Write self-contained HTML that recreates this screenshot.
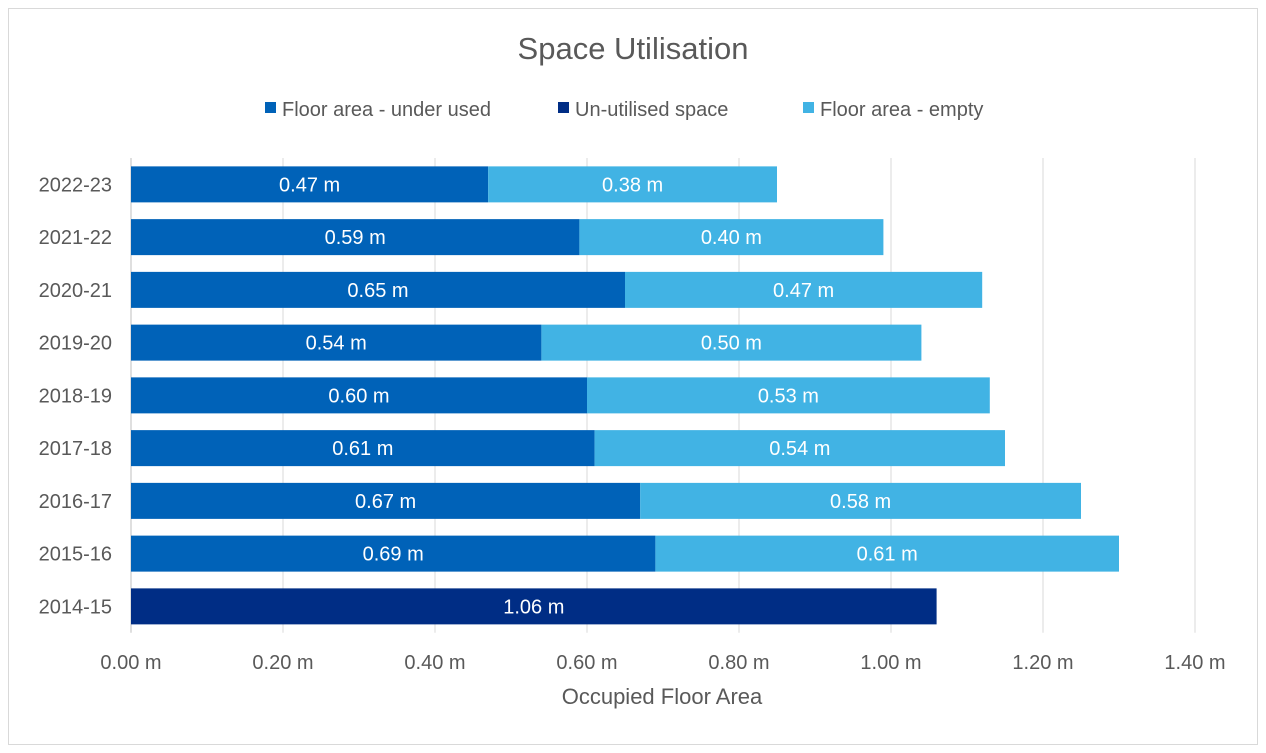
<!DOCTYPE html>
<html><head><meta charset="utf-8"><style>
body{margin:0;background:#fff;}
svg{display:block;font-family:"Liberation Sans",Arial,sans-serif;}
</style></head><body>
<svg id="c" width="1266" height="753">
<rect x="8.5" y="8.5" width="1249" height="736" fill="#fff" stroke="#d9d9d9"/>
<text x="633" y="59" text-anchor="middle" font-size="31" fill="#595959">Space Utilisation</text>
<g>
<g><rect x="265" y="102" width="11" height="11" fill="#0062b8"/><text x="282" y="116" font-size="20" fill="#595959">Floor area - under used</text></g>
<g><rect x="558" y="102" width="11" height="11" fill="#002d85"/><text x="575" y="116" font-size="20" fill="#595959">Un-utilised space</text></g>
<g><rect x="803" y="102" width="11" height="11" fill="#41b3e4"/><text x="820" y="116" font-size="20" fill="#595959">Floor area - empty</text></g>
</g>
<g id="grid"></g>
<g id="bars"></g>
<g id="ylab"></g>
<g id="xlab"></g>
<text x="662" y="704" text-anchor="middle" font-size="22" fill="#595959">Occupied Floor Area</text>
</svg>
<script>
const categories=["2022-23","2021-22","2020-21","2019-20","2018-19","2017-18","2016-17","2015-16","2014-15"];
const underUsed=[0.47,0.59,0.65,0.54,0.60,0.61,0.67,0.69,0];
const unUtilised=[0,0,0,0,0,0,0,0,1.06];
const empty=[0.38,0.40,0.47,0.50,0.53,0.54,0.58,0.61,0];
const xTicks=[0,0.2,0.4,0.6,0.8,1.0,1.2,1.4];
const NS="http://www.w3.org/2000/svg";
const x0=131,pxPer=760,top0=158,step=52.75,barH=36;
const xs=v=>x0+v*pxPer;
const yc=i=>top0+step*(i+0.5);
function mk(tag,attrs,parent){const e=document.createElementNS(NS,tag);for(const k in attrs)e.setAttribute(k,attrs[k]);parent.appendChild(e);return e;}
const grid=document.getElementById('grid'),bars=document.getElementById('bars'),ylab=document.getElementById('ylab'),xlab=document.getElementById('xlab');
xTicks.forEach(t=>{
 const l=mk('line',{x1:xs(t),x2:xs(t),y1:top0,y2:top0+step*categories.length,stroke:t===0?'#bfbfbf':'#d9d9d9','stroke-width':1},grid);
 
 
 const tx=mk('text',{x:xs(t),y:669,'text-anchor':'middle','font-size':20,fill:'#595959'},xlab);
 tx.textContent=t.toFixed(2)+' m';
 
 
});
const series=[[underUsed,'#0062b8','bar-under-used'],[unUtilised,'#002d85','bar-un-utilised'],[empty,'#41b3e4','bar-empty']];
categories.forEach((c,i)=>{
 const ty=mk('text',{x:112,y:yc(i)+7,'text-anchor':'end','font-size':20,fill:'#595959'},ylab);
 ty.textContent=c;
 
 
 let acc=0;
 series.forEach(([arr,col,name])=>{
  const v=arr[i];if(!v)return;
  const r=mk('rect',{x:xs(acc),y:yc(i)-barH/2,width:v*pxPer,height:barH,fill:col},bars);
  
  
  const t=mk('text',{x:xs(acc+v/2),y:yc(i)+7,'text-anchor':'middle','font-size':20,fill:'#fff'},bars);
  t.textContent=v.toFixed(2)+' m';
  
  
  acc+=v;
 });
});
</script>
</body></html>
